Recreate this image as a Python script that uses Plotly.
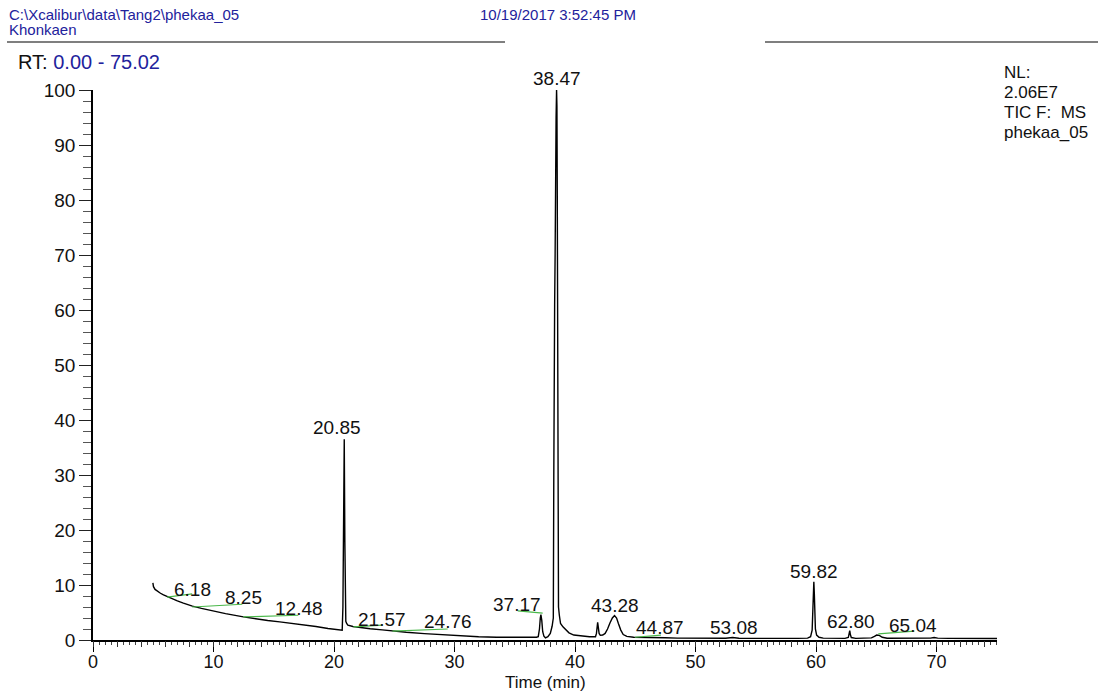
import plotly.graph_objects as go

# TIC chromatogram: retention time (min) vs relative abundance (%)
rt = [
    4.97, 5.02, 5.15, 5.35, 5.6, 5.85, 6.18, 6.6, 7.0, 7.5, 8.25, 9.0, 10.0, 11.0,
    12.48, 13.5, 14.5, 15.5, 16.5, 17.5, 18.5, 19.5, 20.2, 20.6,
    20.68, 20.74, 20.79, 20.85, 20.90, 20.94, 20.98, 21.05, 21.15, 21.57, 22.0,
    23.0, 24.0, 24.76, 26.0, 27.5, 29.0, 30.5, 32.0, 33.5, 35.0, 36.0, 36.8,
    36.95, 37.05, 37.12, 37.17, 37.24, 37.32, 37.42, 37.55, 37.75, 37.95, 38.1,
    38.20, 38.24, 38.27, 38.31, 38.35, 38.38, 38.43, 38.47, 38.50, 38.53, 38.56,
    38.59, 38.63, 38.70, 38.80, 39.0, 39.2, 39.5, 39.9, 40.5, 41.2, 41.65,
    41.7, 41.78, 41.84, 41.88, 41.93, 42.0, 42.1, 42.3,
    42.5, 42.7, 42.9, 43.1, 43.28, 43.45, 43.6, 43.8, 44.0, 44.3, 44.87, 45.5,
    46.5, 47.5, 48.5, 49.5, 50.5, 51.5, 52.5, 53.08, 53.6, 54.5, 55.5, 56.5,
    57.5, 58.5, 59.3, 59.55, 59.68, 59.74, 59.78, 59.82, 59.86, 59.90, 59.95,
    60.05, 60.25, 60.6, 61.5, 62.4, 62.68, 62.75, 62.80, 62.85, 62.93, 63.3,
    64.0, 64.6, 64.85, 65.04, 65.25, 65.5, 65.9, 66.8, 67.8, 68.8, 69.5, 69.8,
    70.1, 71.0, 72.0, 73.0, 74.0, 75.02,
]
abundance = [
    10.4, 9.7, 9.2, 8.85, 8.5, 8.2, 7.85, 7.45, 7.1, 6.7, 6.15, 5.75, 5.25, 4.8,
    4.2, 3.85, 3.55, 3.3, 3.05, 2.8, 2.45, 2.1, 1.85, 1.75,
    1.8, 6.0, 20.0, 36.5, 18.0, 6.0, 3.4, 3.0, 2.7, 2.45, 2.3,
    2.05, 1.85, 1.65, 1.4, 1.15, 0.95, 0.75, 0.6, 0.5, 0.45, 0.45, 0.5,
    0.6, 2.0, 4.0, 4.6, 3.6, 1.5, 0.7, 0.4, 0.6, 1.2, 2.5,
    4.0, 30.0, 58.0, 61.0, 70.0, 87.0, 95.0, 100.0, 97.0, 80.0, 40.0,
    12.0, 6.0, 4.5, 3.0, 2.4, 2.0, 1.3, 0.9, 0.7, 0.6, 0.6,
    0.6, 1.2, 2.6, 3.2, 2.4, 1.2, 0.85, 0.9,
    1.2, 2.0, 3.1, 4.0, 4.45, 4.0, 3.0, 1.8, 1.0, 0.65, 0.5, 0.45,
    0.4, 0.4, 0.35, 0.35, 0.3, 0.3, 0.32, 0.45, 0.32, 0.3, 0.28, 0.3,
    0.28, 0.3, 0.35, 0.6, 1.8, 4.5, 8.0, 10.6, 8.5, 4.5, 2.0,
    0.9, 0.5, 0.35, 0.3, 0.3, 0.45, 1.0, 1.7, 1.0, 0.45, 0.3,
    0.3, 0.38, 0.65, 0.9, 0.85, 0.5, 0.32, 0.3, 0.28, 0.3, 0.35, 0.45,
    0.35, 0.3, 0.28, 0.3, 0.28, 0.28,
]

# Integration baseline segments (start / end of each)
base_rt_start = [6.15, 8.23, 12.47, 21.61, 24.85, 35.25, 44.97, 65.17]
base_ab_start = [7.8, 6.0, 4.2, 2.4, 1.6, 5.3, 0.5, 1.1]
base_rt_end = [8.23, 12.39, 17.04, 24.02, 29.43, 37.32, 47.13, 68.16]
base_ab_end = [8.4, 6.5, 4.5, 2.7, 2.0, 4.9, 0.9, 1.6]

# Peak retention-time labels
peak_labels = ["6.18", "8.25", "12.48", "20.85", "21.57", "24.76", "37.17",
               "38.47", "43.28", "44.87", "53.08", "59.82", "62.80", "65.04"]
label_rt = [8.23, 12.47, 17.12, 20.28, 24.02, 29.43, 35.16,
            38.49, 43.31, 47.05, 53.2, 59.85, 62.93, 68.08]
label_ab = [9.27, 7.64, 5.64, 38.7, 3.8, 3.3, 6.5,
            102.0, 6.2, 2.2, 2.2, 12.4, 3.3, 2.7]

# Run header
file_path = "C:\\Xcalibur\\data\\Tang2\\phekaa_05"
sample_name = "Khonkaen"
run_date = "10/19/2017 3:52:45 PM"
rt_window = "0.00 - 75.02"
info_lines = ["NL:", "2.06E7", "TIC F:  MS", "phekaa_05"]

FONT = "Liberation Sans, Arial, sans-serif"
BLUE = "#22229c"
INK = "#111111"
W, H = 1100, 692
ML, MR, MT, MB = 93, 103, 90, 52
PW, PH = W - ML - MR, H - MT - MB
Y_MAX = 100.0


def px(x):
    return (x - ML) / PW


def py(y):
    return (H - MB - y) / PH


fig = go.Figure()
fig.add_trace(go.Scatter(
    x=rt, y=abundance, mode="lines",
    line=dict(color="black", width=1.4),
    hoverinfo="skip", showlegend=False,
))

gx, gy = [], []
for a, b, c, d in zip(base_rt_start, base_ab_start, base_rt_end, base_ab_end):
    gx += [a, c, None]
    gy += [b, d, None]
fig.add_trace(go.Scatter(
    x=gx, y=gy, xaxis="x2", mode="lines",
    line=dict(color="#4ab84a", width=1.2),
    hoverinfo="skip", showlegend=False,
))

annotations = []
# peak labels: x in data units, y converted to the plot's paper fraction so
# labels above the top of the axis range are still drawn
for txt, x, y in zip(peak_labels, label_rt, label_ab):
    annotations.append(dict(
        x=x, y=y / Y_MAX, xref="x", yref="paper", text=txt,
        xanchor="center", yanchor="middle",
        font=dict(family=FONT, size=19, color=INK),
    ))

annotations += [
    dict(x=px(7), y=py(14), text=file_path, xanchor="left", yanchor="middle",
         font=dict(family=FONT, size=15, color=BLUE)),
    dict(x=px(7), y=py(29), text=sample_name, xanchor="left", yanchor="middle",
         font=dict(family=FONT, size=15, color=BLUE)),
    dict(x=px(478), y=py(14), text=run_date, xanchor="left", yanchor="middle",
         font=dict(family=FONT, size=15, color=BLUE)),
    dict(x=px(16), y=py(62), xanchor="left", yanchor="middle",
         text=f"RT: <span style='color:{BLUE}'>{rt_window}</span>",
         font=dict(family=FONT, size=20, color=INK)),
    dict(x=px(545), y=py(682), text="Time (min)", xanchor="center",
         yanchor="middle", font=dict(family=FONT, size=17, color=INK)),
]
for i, line in enumerate(info_lines):
    annotations.append(dict(
        x=px(1002), y=py(72 + 20 * i), text=line, xanchor="left",
        yanchor="middle", font=dict(family=FONT, size=17, color=INK),
    ))
for a in annotations:
    a.setdefault("xref", "paper")
    a.setdefault("yref", "paper")
    a["showarrow"] = False

shapes = [
    dict(type="line", xref="paper", yref="paper", x0=px(7), x1=px(505),
         y0=py(42), y1=py(42), line=dict(color="black", width=1.2)),
    dict(type="line", xref="paper", yref="paper", x0=px(765), x1=px(1098),
         y0=py(42), y1=py(42), line=dict(color="black", width=1.2)),
]

fig.update_layout(
    width=W, height=H,
    margin=dict(l=ML, r=MR, t=MT, b=MB, autoexpand=False),
    paper_bgcolor="white", plot_bgcolor="white",
    showlegend=False,
    xaxis=dict(
        range=[0, 75.02], tickmode="linear", tick0=0, dtick=10,
        ticks="outside", ticklen=10, tickwidth=1.3, tickcolor="black",
        ticklabelstandoff=-5,
        showline=True, linecolor="black", linewidth=1.5,
        showgrid=False, zeroline=False,
        tickfont=dict(family=FONT, size=18, color=INK),
        minor=dict(tickmode="linear", tick0=0, dtick=0.5, ticks="outside",
                   ticklen=3, tickcolor="#444", tickwidth=1, showgrid=False),
    ),
    xaxis2=dict(
        overlaying="x", anchor="y", side="bottom", range=[0, 75.02],
        tickmode="linear", tick0=0, dtick=2, ticks="outside", ticklen=6,
        tickwidth=1, tickcolor="#333", showticklabels=False,
        showline=False, showgrid=False, zeroline=False,
    ),
    yaxis=dict(
        range=[0, Y_MAX], tickmode="linear", tick0=0, dtick=10,
        ticks="outside", ticklen=12, tickwidth=1.3, tickcolor="#222",
        showline=True, linecolor="black", linewidth=1.5,
        showgrid=False, zeroline=False,
        tickfont=dict(family=FONT, size=19, color=INK),
        minor=dict(tickmode="linear", tick0=0, dtick=2, ticks="outside",
                   ticklen=8, tickcolor="#555", tickwidth=1, showgrid=False),
    ),
    annotations=annotations,
    shapes=shapes,
)

fig.write_html("out.html")
